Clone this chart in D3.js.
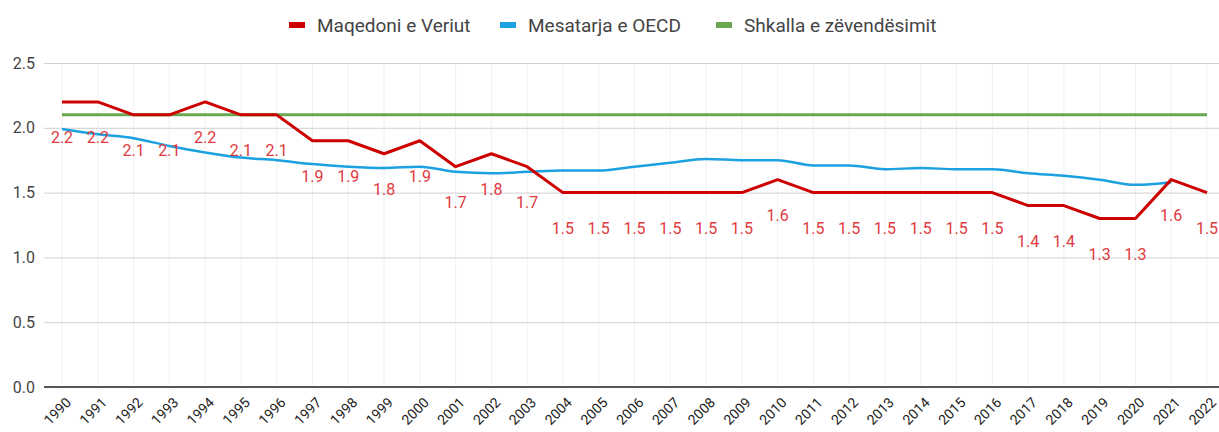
<!DOCTYPE html>
<html>
<head>
<meta charset="utf-8">
<script src="https://cdn.jsdelivr.net/npm/d3@7"></script>
<style>
  body { margin: 0; background: #fff; }
  svg { display: block; }
</style>
</head>
<body>
<div id="chart"></div>
<script>
const years = d3.range(1990, 2023).map(String);

const macedonia = [2.2, 2.2, 2.1, 2.1, 2.2, 2.1, 2.1, 1.9, 1.9, 1.8, 1.9, 1.7, 1.8, 1.7,
    1.5, 1.5, 1.5, 1.5, 1.5, 1.5, 1.6, 1.5, 1.5, 1.5, 1.5, 1.5, 1.5, 1.4, 1.4, 1.3, 1.3, 1.6, 1.5];

// OECD average stops at 2021
const oecd = [1.99, 1.95, 1.92, 1.86, 1.81, 1.77, 1.75, 1.72, 1.70, 1.69, 1.70, 1.66, 1.65, 1.66,
    1.67, 1.67, 1.70, 1.73, 1.76, 1.75, 1.75, 1.71, 1.71, 1.68, 1.69, 1.68, 1.68, 1.65, 1.63, 1.60, 1.56, 1.58];

const replacement = years.map(() => 2.1);

const yTicks = [0, 0.5, 1, 1.5, 2, 2.5];

const seriesNames = ["Maqedoni e Veriut", "Mesatarja e OECD", "Shkalla e zëvendësimit"];
const seriesColors = ["#cc0000", "#1ba1e2", "#6aa84f"];

const width = 1219;
const height = 432;
const font = "Roboto, Arial, sans-serif";

const svg = d3.select("#chart")
    .append("svg")
    .attr("width", width)
    .attr("height", height);

const x = d3.scalePoint()
    .domain(years)
    .range([62, 1207]);

const y = d3.scaleLinear()
    .domain([0, 2.5])
    .range([387, 63]);

// faint vertical grid
svg.append("g")
    .selectAll("line")
    .data(years)
    .enter()
    .append("line")
    .attr("x1", d => x(d))
    .attr("x2", d => x(d))
    .attr("y1", y(2.5))
    .attr("y2", y(0))
    .attr("stroke", "#f1f1f1");

// horizontal grid
const yAxis = svg.append("g")
    .attr("transform", "translate(44,0)")
    .call(d3.axisLeft(y).tickValues(yTicks).tickFormat(d3.format(".1f")).tickSize(-(width - 44)));
yAxis.select(".domain").remove();
yAxis.selectAll(".tick line").attr("stroke", "#d0d0d0");
yAxis.selectAll(".tick text")
    .attr("x", -9)
    .attr("fill", "#444")
    .style("font-family", font)
    .style("font-size", "16px");

// baseline
svg.append("line")
    .attr("x1", 44)
    .attr("x2", width)
    .attr("y1", y(0))
    .attr("y2", y(0))
    .attr("stroke", "#555")
    .attr("stroke-width", 2);

// x axis labels
const xAxis = svg.append("g")
    .attr("transform", `translate(0,${y(0)})`)
    .call(d3.axisBottom(x).tickSize(0));
xAxis.select(".domain").remove();
xAxis.selectAll(".tick text")
    .attr("text-anchor", "end")
    .attr("y", 0)
    .attr("dy", "0.35em")
    .attr("transform", "translate(6,13) rotate(-45)")
    .attr("fill", "#222")
    .style("font-family", font)
    .style("font-size", "14px");

const line = d3.line()
    .x((d, i) => x(years[i]))
    .y(d => y(d));

svg.append("path")
    .datum(replacement)
    .attr("d", line)
    .attr("fill", "none")
    .attr("stroke", seriesColors[2])
    .attr("stroke-width", 3);

svg.append("path")
    .datum(oecd)
    .attr("d", line.curve(d3.curveMonotoneX))
    .attr("fill", "none")
    .attr("stroke", seriesColors[1])
    .attr("stroke-width", 2.5);

svg.append("path")
    .datum(macedonia)
    .attr("d", d3.line().x((d, i) => x(years[i])).y(d => y(d)))
    .attr("fill", "none")
    .attr("stroke", seriesColors[0])
    .attr("stroke-width", 3)
    .attr("stroke-linejoin", "round");

// data labels under the red line
svg.append("g")
    .selectAll("text")
    .data(macedonia)
    .enter()
    .append("text")
    .attr("x", (d, i) => Math.min(x(years[i]), width - 12))
    .attr("y", d => y(d) + 41)
    .attr("text-anchor", "middle")
    .attr("fill", "#e0393e")
    .style("font-family", font)
    .style("font-size", "16px")
    .text(d => d3.format(".1f")(d));

// legend
const legendX = [289, 500, 716];
const legend = svg.append("g")
    .selectAll("g")
    .data(seriesNames)
    .enter()
    .append("g")
    .attr("transform", (d, i) => `translate(${legendX[i]},25)`);

legend.append("rect")
    .attr("x", 0)
    .attr("y", -3)
    .attr("width", 16)
    .attr("height", 6)
    .attr("fill", (d, i) => seriesColors[i]);

legend.append("text")
    .attr("x", 28)
    .attr("y", 7)
    .attr("fill", "#444")
    .style("font-family", font)
    .style("font-size", "19px")
    .text(d => d);
</script>
</body>
</html>
